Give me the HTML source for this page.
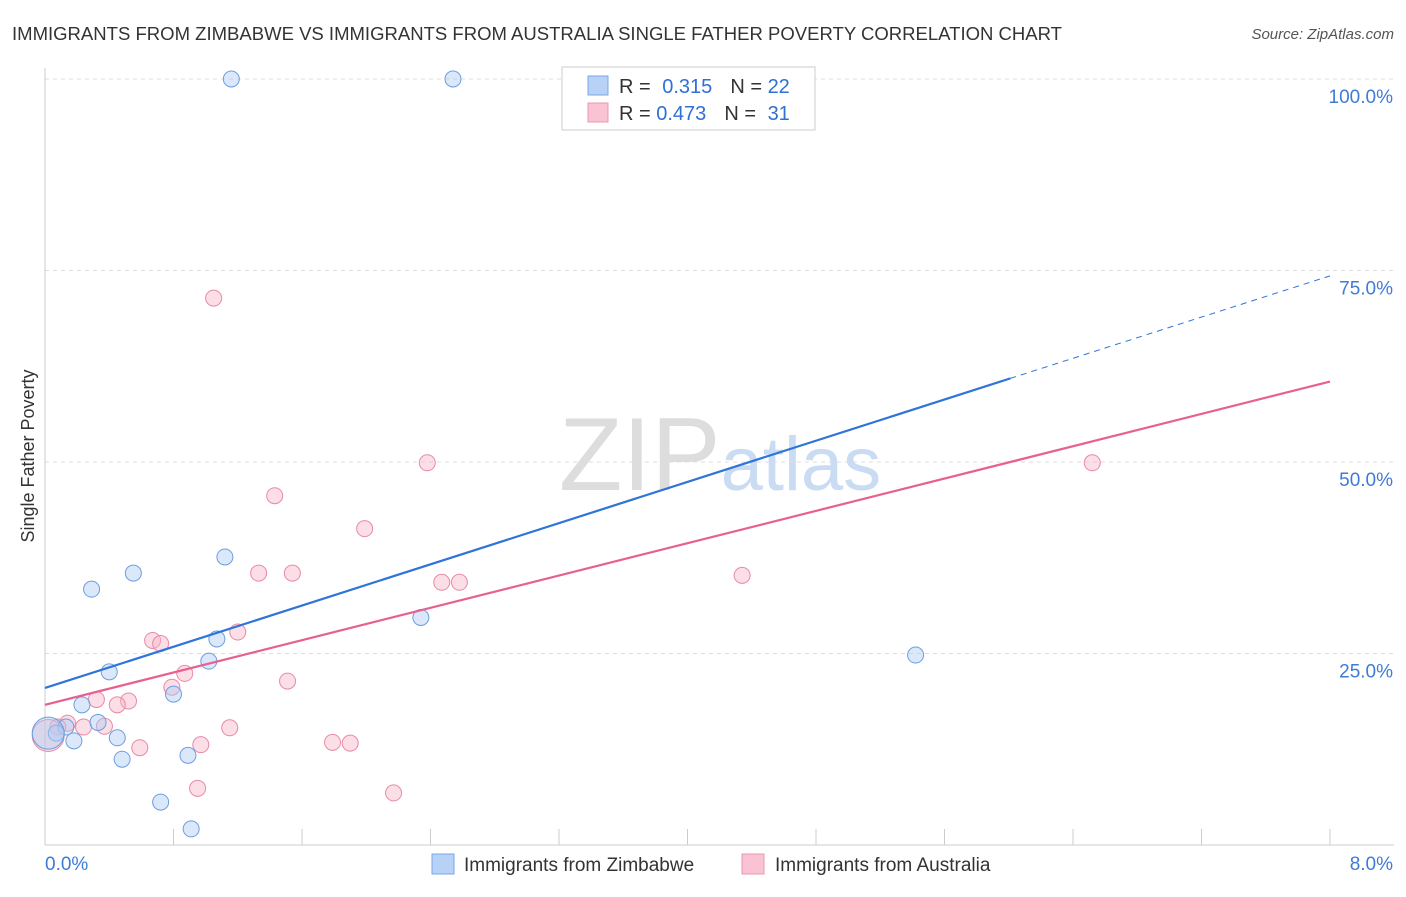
<!DOCTYPE html>
<html><head><meta charset="utf-8"><style>
body{margin:0;background:#fff;font-family:"Liberation Sans",sans-serif;}
svg text{font-family:"Liberation Sans",sans-serif;}
</style></head><body>
<svg id="chart" width="1406" height="892">
<text x="12" y="40" font-size="18" fill="#333" textLength="1050" lengthAdjust="spacingAndGlyphs">IMMIGRANTS FROM ZIMBABWE VS IMMIGRANTS FROM AUSTRALIA SINGLE FATHER POVERTY CORRELATION CHART</text>
<text x="1394" y="39" font-size="15" fill="#555" font-style="italic" text-anchor="end">Source: ZipAtlas.com</text>
<text x="34" y="456" font-size="18" fill="#333" transform="rotate(-90 34 456)" text-anchor="middle">Single Father Poverty</text>
<text x="720" y="490" font-size="104" fill="#ddd" text-anchor="middle" font-family="Liberation Serif">ZIP<tspan fill="#c9dcf3" font-family="Liberation Sans" font-size="76">atlas</tspan></text>
<g id="grid"></g><g id="marks"></g>
<g>
<rect x="562" y="67" width="253" height="63" fill="#fff" stroke="#ccc"/>
<rect x="588" y="76" width="20" height="19" fill="#b8d2f7" stroke="#7aa7e6"/>
<rect x="588" y="103" width="20" height="19" fill="#f9c3d3" stroke="#eb97b3"/>
<text x="619" y="93" font-size="20" fill="#333">R = <tspan fill="#2f6fd6" dx="6">0.315</tspan><tspan dx="18" fill="#333">N = </tspan><tspan fill="#2f6fd6">22</tspan></text>
<text x="619" y="120" font-size="20" fill="#333">R = <tspan fill="#2f6fd6">0.473</tspan><tspan dx="18" fill="#333">N = </tspan><tspan fill="#2f6fd6" dx="6">31</tspan></text>
</g>
<g>
<rect x="432" y="854" width="22" height="20" fill="#b8d2f7" stroke="#7aa7e6"/>
<text x="464" y="871" font-size="19" fill="#333">Immigrants from Zimbabwe</text>
<rect x="742" y="854" width="22" height="20" fill="#f9c3d3" stroke="#eb97b3"/>
<text x="775" y="871" font-size="19" fill="#333">Immigrants from Australia</text>
</g>
</svg>
<script>
const xTicks=[0,0.8,1.6,2.4,3.2,4,4.8,5.6,6.4,7.2,8];
const yTicks=[25,50,75,100];
const yTickLabels=["25.0%","50.0%","75.0%","100.0%"];
const zimX=[1.16,2.54,0.55,0.29,1.12,2.34,5.42,1.07,1.02,0.40,0.80,0.23,0.33,0.13,0.07,0.18,0.45,0.48,0.89,0.72,0.91,0.02];
const zimY=[100,100,35.5,33.4,37.6,29.7,24.8,26.9,24.0,22.6,19.7,18.3,16.0,15.4,14.6,13.6,14.0,11.2,11.7,5.6,2.1,14.6];
const ausX=[1.05,2.38,6.52,1.43,1.99,1.33,1.54,2.47,2.58,4.34,1.20,0.67,0.72,0.87,0.79,1.51,0.32,0.52,0.45,0.14,0.37,1.15,0.24,0.59,0.97,1.79,1.90,0.95,2.17,0.08,0.02];
const ausY=[71.4,49.9,49.9,45.6,41.3,35.5,35.5,34.3,34.3,35.2,27.8,26.7,26.3,22.4,20.6,21.4,19.0,18.8,18.3,15.9,15.5,15.3,15.4,12.7,13.1,13.4,13.3,7.4,6.8,15.4,14.3];
const zimLine=[20.5,74.3], ausLine=[18.3,60.5];
const X0=45,X1=1330,Y0=845,YTop=79;
const sx=v=>X0+(v/8)*(X1-X0), sy=v=>Y0-(v/100)*(Y0-YTop);
const NS="http://www.w3.org/2000/svg";
const g=document.getElementById('grid'), m=document.getElementById('marks');
function el(t,a,p){const e=document.createElementNS(NS,t);for(const k in a)e.setAttribute(k,a[k]);p.appendChild(e);return e;}
yTicks.forEach((t,i)=>{
 const l=el('line',{x1:X0,x2:1394,y1:sy(t),y2:sy(t),stroke:'#ddd','stroke-dasharray':'4,4'},g);
 
 
 const tx=el('text',{x:1393,y:sy(t)+24,'font-size':19,fill:'#3f7bd6','text-anchor':'end'},g);tx.textContent=yTickLabels[i];
 
 
});
const ax=el('line',{x1:X0,x2:1394,y1:Y0,y2:Y0,stroke:'#ccc'},g);


const ay=el('line',{x1:X0,x2:X0,y1:68,y2:Y0,stroke:'#ccc'},g);


xTicks.forEach(t=>{const l=el('line',{x1:sx(t),x2:sx(t),y1:Y0,y2:Y0-16,stroke:'#ccc'},g);
 
 });
let t1=el('text',{x:45,y:870,'font-size':19,fill:'#3f7bd6'},g);t1.textContent='0.0%';


let t2=el('text',{x:1393,y:870,'font-size':19,fill:'#3f7bd6','text-anchor':'end'},g);t2.textContent='8.0%';


function pts(xs,ys,fill,stroke,name){xs.forEach((x,i)=>{const big=i===xs.length-1;
 const c=el('circle',{cx:sx(x),cy:sy(ys[i]),r:big?16:8,fill:fill,'fill-opacity':0.45,stroke:stroke,'stroke-width':1},m);
 
 });}
pts(ausX,ausY,'#f7b6c8','#e88aa8','point-australia');
pts(zimX,zimY,'#aecbf5','#6d9ee0','point-zimbabwe');
const xs=6.01;
const zy=v=>zimLine[0]+(zimLine[1]-zimLine[0])*v/8;
let l1=el('line',{x1:sx(0),y1:sy(zimLine[0]),x2:sx(xs),y2:sy(zy(xs)),stroke:'#2f74d8','stroke-width':2.2},m);


let l2=el('line',{x1:sx(xs),y1:sy(zy(xs)),x2:sx(8),y2:sy(zimLine[1]),stroke:'#2f74d8','stroke-width':1,'stroke-dasharray':'6,5'},m);


let l3=el('line',{x1:sx(0),y1:sy(ausLine[0]),x2:sx(8),y2:sy(ausLine[1]),stroke:'#e8608f','stroke-width':2.2},m);


</script>
</body></html>
